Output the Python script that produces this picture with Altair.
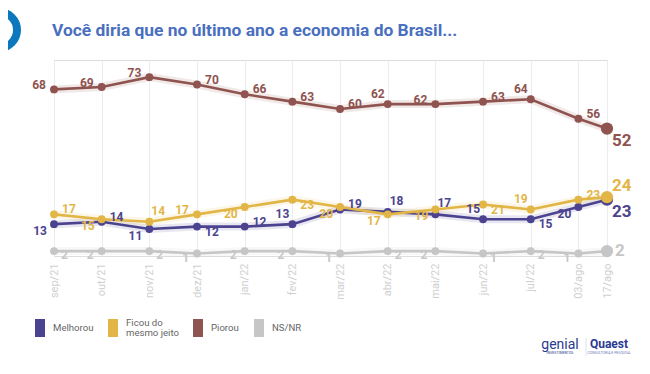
import json
import altair as alt
import pandas as pd

# ---------------- data ----------------
categories = ["sep/21", "out/21", "nov/21", "dez/21", "jan/22", "fev/22", "mar/22",
              "abr/22", "mai/22", "jun/22", "jul/22", "03/ago", "17/ago"]
# survey slot (months since sep/21; the last survey is a mid-month wave)
period = [0, 1, 2, 3, 4, 5, 6, 7, 8, 9, 10, 11, 11.6]

melhorou = [13, 14, 11, 12, 12, 13, 19, 18, 17, 15, 15, 20, 23]
ficou = [17, 15, 14, 17, 20, 23, 20, 17, 19, 21, 19, 23, 24]
piorou = [68, 69, 73, 70, 66, 63, 60, 62, 62, 63, 64, 56, 52]
nsnr = [2, 2, 2, 1, 2, 2, 1, 2, 2, 1, 2, 1, 2]

series_names = ["Melhorou", "Ficou do mesmo jeito", "Piorou", "NS/NR"]
series_colors = ["#4b438f", "#e2b646", "#8f5350", "#c6c6c6"]
legend_lines = [["Melhorou"], ["Ficou do", "mesmo jeito"], ["Piorou"], ["NS/NR"]]

# label placement codes (relative to each point)
melhorou_lab = ["BL", "R", "BL", "BR", "R", "TL", "R", "TR", "TR", "TL", "BR", "BL", "BIG_BR"]
ficou_lab = ["R", "BL", "TR", "L", "BL", "BR", "BL", "BL", "BL", "BR", "TL", "R", "BIG_TR"]
piorou_lab = ["L", "L", "L", "R", "R", "R", "R", "TL", "L", "R", "TL", "R", "BIG_BR"]
nsnr_lab = ["RD", "LD", "RD", "LD", "LD", "LD", "LD", "RD", "LD", "RD", "RD", "LD", "BIG_R"]

title_text = "Você diria que no último ano a economia do Brasil..."

# ---------------- table ----------------
rows = []
for name, vals, labs in [("NS/NR", nsnr, nsnr_lab), ("Melhorou", melhorou, melhorou_lab),
                         ("Ficou do mesmo jeito", ficou, ficou_lab), ("Piorou", piorou, piorou_lab)]:
    for i, (p, v, l) in enumerate(zip(period, vals, labs)):
        rows.append({"series": name, "t": p, "value": v, "pos": l,
                     "last": i == len(vals) - 1})
df = pd.DataFrame(rows)

FONT = "Roboto"
color_scale = alt.Scale(domain=series_names, range=series_colors)

label_expr = "{}[indexof({}, datum.value)]".format(json.dumps(categories), json.dumps(period))

x_enc = alt.X("t:Q", scale=alt.Scale(domain=[0, 11.6], nice=False, zero=False),
              axis=alt.Axis(values=period, labelExpr=label_expr, labelAngle=270,
                            labelAlign="right", labelBaseline="middle", labelPadding=7,
                            labelFontSize=11, labelColor="#d0d0d0", labelFont=FONT,
                            domain=False, ticks=False, grid=True, gridColor="#ececec",
                            gridWidth=1, title=None, labelOverlap=False))
y_enc = alt.Y("value:Q", scale=alt.Scale(domain=[0, 80], nice=False), axis=None)
c_nolegend = alt.Color("series:N", scale=color_scale, legend=None)

base = alt.Chart(df)

halo = base.mark_line(strokeWidth=8, strokeOpacity=0.13, strokeCap="round").encode(
    x=x_enc, y=y_enc, color=c_nolegend, detail="series:N", order="t:Q")

layers = [halo]
for name in ["NS/NR", "Melhorou", "Ficou do mesmo jeito", "Piorou"]:
    sub = base.transform_filter(alt.datum.series == name)
    line = sub.mark_line(strokeWidth=2.6).encode(
        x=x_enc, y=y_enc, color=c_nolegend, order="t:Q")
    pts = sub.transform_filter("!datum.last").mark_circle(size=62, opacity=1).encode(
        x=x_enc, y=y_enc, color=c_nolegend)
    big = sub.transform_filter("datum.last").mark_circle(size=150, opacity=1).encode(
        x=x_enc, y=y_enc, color=c_nolegend)
    layers += [line, pts, big]

codes = {
    "L": dict(align="right", dx=-8, dy=-4, size=12),
    "R": dict(align="left", dx=8, dy=-5, size=12),
    "LD": dict(align="right", dx=-8, dy=4, size=12),
    "RD": dict(align="left", dx=7, dy=4, size=12),
    "TL": dict(align="right", dx=-3, dy=-10, size=12),
    "TR": dict(align="left", dx=2, dy=-11, size=12),
    "BL": dict(align="right", dx=-7, dy=7, size=12),
    "BR": dict(align="left", dx=8, dy=5, size=12),
    "BIG_TR": dict(align="left", dx=5, dy=-11, size=17),
    "BIG_BR": dict(align="left", dx=5, dy=12, size=17),
    "BIG_R": dict(align="left", dx=8, dy=0, size=17),
}
for code, c in codes.items():
    t = base.transform_filter(alt.datum.pos == code).mark_text(
        align=c["align"], baseline="middle", dx=c["dx"], dy=c["dy"],
        fontSize=c["size"], fontWeight="bold", font=FONT).encode(
        x=x_enc, y=y_enc, text="value:Q", color=c_nolegend)
    layers.append(t)

# decorations: title, logo ring and brand marks
deco = alt.Chart(pd.DataFrame({"k": [0]}))
title = deco.mark_text(text=title_text, font=FONT, fontSize=17.4, fontWeight="bold",
                       color="#4a6fbf", align="left", baseline="alphabetic").encode(
    x=alt.value(-2), y=alt.value(-24))
ring = deco.mark_point(shape="circle", filled=False, stroke="#0b78be", strokeWidth=8,
                       size=1296, opacity=1).encode(x=alt.value(-55), y=alt.value(-30))
genial = deco.mark_text(text="genial", font=FONT, fontSize=14, color="#2b3990",
                        align="center", baseline="alphabetic").encode(
    x=alt.value(506), y=alt.value(289))
genial_sub = deco.mark_text(text="INVESTIMENTOS", font=FONT, fontSize=3.5, color="#2b3990",
                            align="center").encode(x=alt.value(506), y=alt.value(293))
sep_rule = deco.mark_rule(color="#d6e6f3", strokeWidth=1).encode(
    x=alt.value(532), y=alt.value(278), y2=alt.value(296))
quaest = deco.mark_text(text="Quaest", font=FONT, fontSize=12, fontWeight="bold",
                        color="#2b3990", align="center", baseline="alphabetic").encode(
    x=alt.value(555), y=alt.value(288))
quaest_sub = deco.mark_text(text="CONSULTORIA E PESQUISA", font=FONT, fontSize=3.5,
                            color="#6d7bb8", align="center").encode(
    x=alt.value(555), y=alt.value(293))
layers += [title, ring, genial, genial_sub, sep_rule, quaest, quaest_sub]

# legend: colour swatch + label for each series (layout of the legend row)
legend_x = [-19, 54, 139, 200]      # swatch left edges, plot coordinates
legend_df = pd.DataFrame({"series": series_names})
for i, name in enumerate(series_names):
    ent = alt.Chart(legend_df).transform_filter(alt.datum.series == name)
    sw = ent.mark_rect().encode(
        x=alt.value(legend_x[i]), x2=alt.value(legend_x[i] + 10),
        y=alt.value(259), y2=alt.value(277), color=c_nolegend)
    layers.append(sw)
    lines = legend_lines[i]
    n = len(lines)
    for j, txt in enumerate(lines):
        lab = deco.mark_text(text=txt, font=FONT, fontSize=9.6, color="#666666",
                             align="left", baseline="middle").encode(
            x=alt.value(legend_x[i] + 18), y=alt.value(268 + (j - (n - 1) / 2) * 10.5))
        layers.append(lab)

chart = alt.layer(*layers).properties(
    width=553, height=196,
    autosize=alt.AutoSizeParams(type="none"),
    padding={"left": 46, "top": 52, "right": 35, "bottom": 110},
).configure_view(stroke=None).configure(background="white")

chart.save("out.html", embed_options={"renderer": "svg", "actions": False})
